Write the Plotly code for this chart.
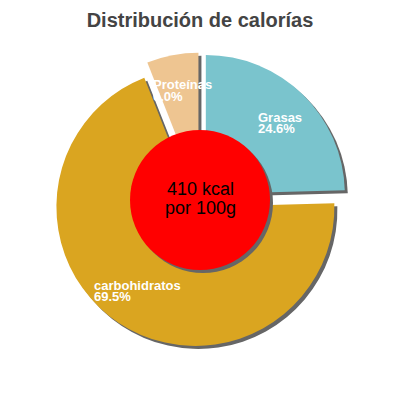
import plotly.graph_objects as go

# slice data, clockwise from 12 o'clock
labels = ["Grasas", "carbohidratos", "Proteínas"]
values = [24.6, 69.5, 6.0]
colors = ["#7ac4cd", "#daa520", "#eec591"]

energy_kcal = 410
center_lines = [f"{energy_kcal} kcal", "por 100g"]
title_text = "Distribución de calorías"

# page body has an 8px margin, so the figure is 392px and starts at (8, 8)
OFF = 8
W = H = 400 - OFF
PULL = 0.06
SHADOW = "#666666"
FONT = "Liberation Sans, Arial"


def px_x(x):
    return (x - OFF) / W


def px_y(y):
    return 1 - (y - OFF) / H


def dom(cx, cy, half):
    return dict(x=[px_x(cx - half), px_x(cx + half)],
                y=[px_y(cy + half), px_y(cy - half)])


half = 139 * (1 + PULL)   # plotly shrinks radius to fit pulled slices
pie_kw = dict(values=values, labels=labels, sort=False, direction="clockwise",
              rotation=0, pull=[PULL] * len(values), textinfo="none",
              hoverinfo="skip", showlegend=False)

fig = go.Figure()
# drop shadow, offset a few px down-right
fig.add_trace(go.Pie(domain=dom(203, 203, half),
                     marker=dict(colors=[SHADOW] * len(values), line=dict(width=0)),
                     **pie_kw))
fig.add_trace(go.Pie(domain=dom(200, 200, half),
                     marker=dict(colors=colors, line=dict(width=0)), **pie_kw))

# red centre disc with its shadow
r = 70
for (cx, cy), col in [((203, 203), SHADOW), ((200, 200), "#ff0000")]:
    fig.add_shape(type="circle", xref="paper", yref="paper", layer="above",
                  x0=px_x(cx - r), x1=px_x(cx + r), y0=px_y(cy + r), y1=px_y(cy - r),
                  fillcolor=col, line=dict(width=0))

for i, t in enumerate(center_lines):
    fig.add_annotation(x=px_x(200), y=px_y(189 + 18.5 * i), xref="paper", yref="paper",
                       text=t, showarrow=False, yanchor="middle",
                       font=dict(size=18, color="black", family=FONT))

# slice labels (name + share)
label_pos = {"Grasas": (256, 117), "carbohidratos": (92, 285), "Proteínas": (151, 85)}
for name, v in zip(labels, values):
    lx, ly = label_pos[name]
    for i, t in enumerate([name, f"{v:.1f}%"]):
        fig.add_annotation(x=px_x(lx), y=px_y(ly + 11.6 * i), xref="paper", yref="paper",
                           text=t, showarrow=False, xanchor="left", yanchor="middle",
                           font=dict(size=13, color="white", family=FONT, weight="bold"))

fig.update_layout(
    width=W, height=H, margin=dict(l=0, r=0, t=0, b=0),
    paper_bgcolor="white", plot_bgcolor="white",
    title=dict(text=f"<b>{title_text}</b>", x=px_x(200), y=px_y(20), xanchor="center",
               yanchor="middle", font=dict(size=20, color="#444444", family=FONT)))

fig.write_html("out.html")
